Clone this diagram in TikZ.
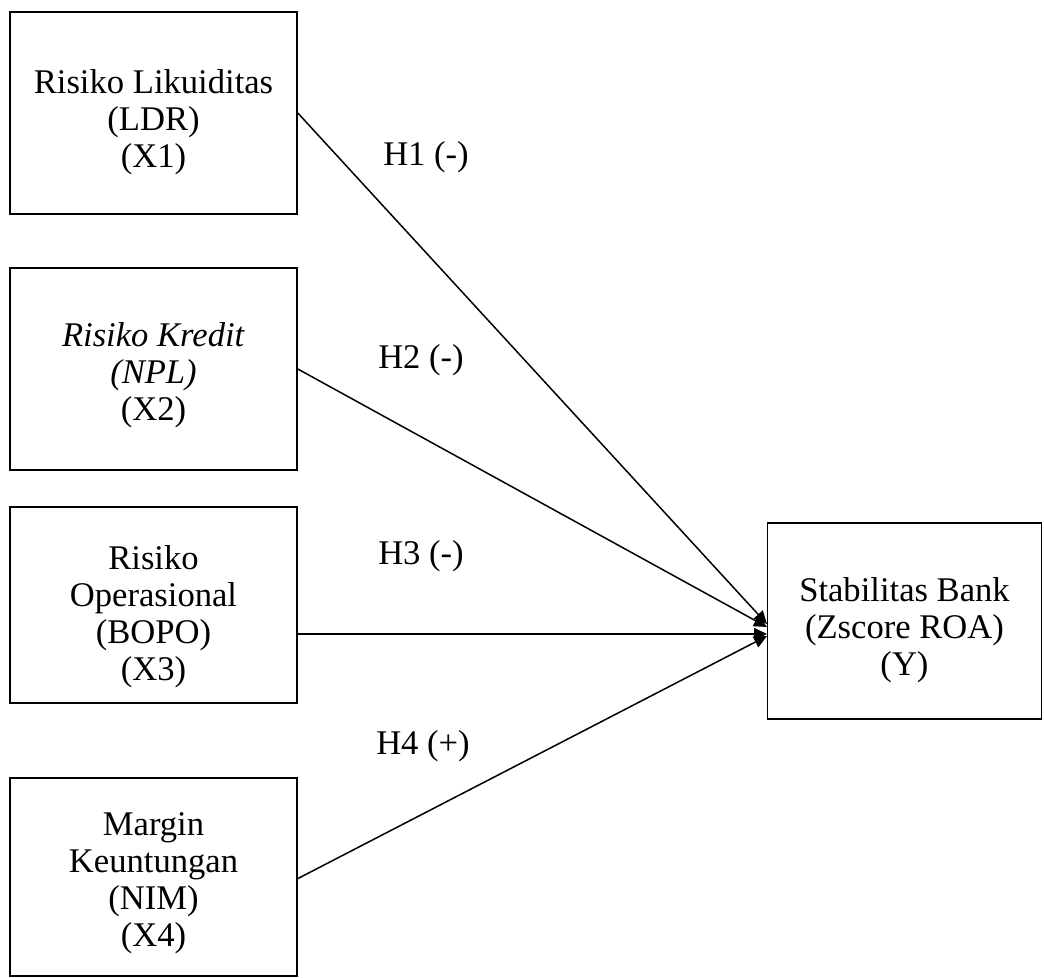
\documentclass[tikz,border=0pt]{standalone}
\usepackage{fontspec}
\setmainfont{Liberation Serif}
\usetikzlibrary{arrows.meta}
\begin{document}
\begin{tikzpicture}[x=0.5pt,y=-0.5pt,
  box/.style={draw,line width=0.8pt,inner sep=0pt,minimum width=143.5pt},
  txt/.style={align=center,inner sep=0pt,font=\fontsize{17.3}{18.5}\selectfont},
  lab/.style={font=\fontsize{17.3}{18.5}\selectfont,inner sep=0pt},
  conn/.style={line width=0.75pt,-{Triangle[length=6.5pt,width=6pt]}}]
\useasboundingbox (0,0) rectangle (1044,978);
\node[box,minimum height=101pt] (x1) at (153.5,113) {};
\node[txt] (x1t) at (153.5,122) {Risiko Likuiditas\\(LDR)\\(X1)};
\node[box,minimum height=101pt] (x2) at (153.5,369) {};
\node[txt] (x2t) at (153.5,375) {\textit{Risiko Kredit}\\\textit{(NPL)}\\(X2)};
\node[box,minimum height=98pt] (x3) at (153.5,605) {};
\node[txt] (x3t) at (153.5,617) {Risiko\\Operasional\\(BOPO)\\(X3)};
\node[box,minimum height=99pt] (x4) at (153.5,877) {};
\node[txt] (x4t) at (153.5,883) {Margin\\Keuntungan\\(NIM)\\(X4)};
\node[box,minimum width=137pt,minimum height=98pt] (y) at (904.5,621) {};
\node[txt] (yt) at (904.5,630) {Stabilitas Bank\\(Zscore ROA)\\(Y)};
\coordinate (s3) at (297,634);
\coordinate (s4) at (297,879);
\coordinate (t1) at (767,624);
\coordinate (t2) at (767,627);
\coordinate (t3) at (767,634);
\coordinate (t4) at (767,636);
\draw[conn] (x1.east) -- (t1);
\draw[conn] (x2.east) -- (t2);
\draw[conn] (s3) -- (t3);
\draw[conn] (s4) -- (t4);
\node[lab] (h1) at (426,157) {H1 (-)};
\node[lab] (h2) at (421,360) {H2 (-)};
\node[lab] (h3) at (421,556) {H3 (-)};
\node[lab] (h4) at (423,746) {H4 (+)};
\end{tikzpicture}
\end{document}
